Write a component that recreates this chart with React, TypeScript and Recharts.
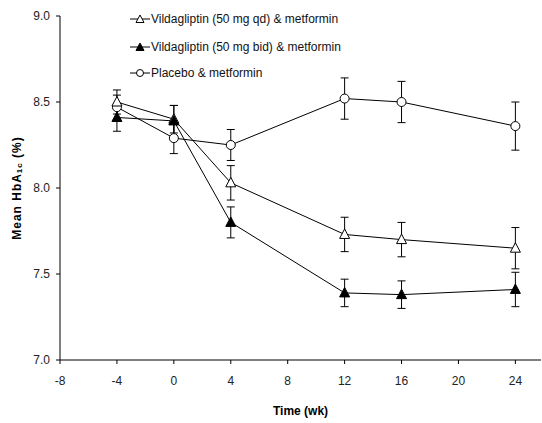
import React from "react";
import {
  LineChart,
  Line,
  XAxis,
  YAxis,
  ErrorBar,
} from "recharts";

const weeks = [-4, 0, 4, 12, 16, 24];

const qdMean = [8.5, 8.4, 8.03, 7.73, 7.7, 7.65];
const qdErr = [0.07, 0.08, 0.1, 0.1, 0.1, 0.12];

const bidMean = [8.41, 8.39, 7.8, 7.39, 7.38, 7.41];
const bidErr = [0.08, 0.09, 0.09, 0.08, 0.08, 0.1];

const pboMean = [8.47, 8.29, 8.25, 8.52, 8.5, 8.36];
const pboErr = [0.07, 0.09, 0.09, 0.12, 0.12, 0.14];

const xTicks = [-8, -4, 0, 4, 8, 12, 16, 20, 24];
const yTicks = [7.0, 7.5, 8.0, 8.5, 9.0];

const legendLabels = [
  "Vildagliptin (50 mg qd) & metformin",
  "Vildagliptin (50 mg bid) & metformin",
  "Placebo & metformin",
];

const data = weeks.map((w, i) => ({
  week: w,
  qd: qdMean[i],
  qdErr: qdErr[i],
  bid: bidMean[i],
  bidErr: bidErr[i],
  pbo: pboMean[i],
  pboErr: pboErr[i],
}));

const FONT = "'Liberation Sans', Arial, sans-serif";

function triangle(fill: string) {
  return (props: any) => {
    const { cx, cy, index } = props;
    if (cx == null || cy == null) return <g key={index} />;
    return (
      <path
        key={index}
        d={`M${cx},${cy - 5.5} L${cx + 5},${cy + 4} L${cx - 5},${cy + 4} Z`}
        fill={fill}
        stroke="#000"
        strokeWidth={1}
      />
    );
  };
}

function circle(props: any) {
  const { cx, cy, index } = props;
  if (cx == null || cy == null) return <g key={index} />;
  return <circle key={index} cx={cx} cy={cy} r={4.5} fill="#fff" stroke="#000" strokeWidth={1} />;
}

function LegendIcon({ kind }: { kind: number }) {
  return (
    <svg width={20} height={12} style={{ display: "block" }}>
      <line x1={0} y1={6} x2={20} y2={6} stroke="#000" strokeWidth={1} />
      {kind === 2 ? (
        <circle cx={10} cy={6} r={3.5} fill="#fff" stroke="#000" />
      ) : (
        <path
          d="M10,2 L14,9.5 L6,9.5 Z"
          fill={kind === 1 ? "#000" : "#fff"}
          stroke="#000"
        />
      )}
    </svg>
  );
}

const yLabel = (
  <text
    x={17}
    y={188}
    transform="rotate(-90 17 188)"
    textAnchor="middle"
    dominantBaseline="central"
    fontFamily={FONT}
    fontSize={12}
    fontWeight="bold"
    letterSpacing={1}
    fill="#000"
  >
    Mean HbA
    <tspan fontSize={8} dy={2}>1c</tspan>
    <tspan dy={-2}> (%)</tspan>
  </text>
);

export default function App() {
  return (
    <div style={{ position: "absolute", left: 0, top: 0, width: 542, height: 423, background: "#fff" }}>
      <LineChart
        width={542}
        height={423}
        data={data}
        margin={{ top: 16, right: 1, bottom: 0, left: 0 }}
      >
        <XAxis
          dataKey="week"
          type="number"
          domain={[-8, 25.8]}
          ticks={xTicks}
          allowDataOverflow
          height={63}
          stroke="#000"
          tickLine={{ stroke: "#000" }}
          tickSize={4}
          tick={{ fontSize: 12, fill: "#222", fontFamily: FONT }}
          tickMargin={12}
          label={{
            value: "Time (wk)",
            position: "insideBottom",
            offset: 8,
            style: { fontSize: 12, fontWeight: "bold", fill: "#000", fontFamily: FONT },
          }}
        />
        <YAxis
          type="number"
          domain={[7, 9]}
          ticks={yTicks}
          allowDataOverflow
          width={60}
          stroke="#000"
          tickLine={{ stroke: "#000" }}
          tickSize={4}
          tickMargin={6}
          tickFormatter={(v: number) => v.toFixed(1)}
          tick={{ fontSize: 12, fill: "#222", fontFamily: FONT }}
        />
        <Line
          dataKey="pbo"
          stroke="#000"
          strokeWidth={1}
          dot={circle}
          activeDot={false}
          isAnimationActive={false}
        >
          <ErrorBar dataKey="pboErr" direction="y" width={4} stroke="#000" strokeWidth={1} />
        </Line>
        <Line
          dataKey="qd"
          stroke="#000"
          strokeWidth={1}
          dot={triangle("#fff")}
          activeDot={false}
          isAnimationActive={false}
        >
          <ErrorBar dataKey="qdErr" direction="y" width={4} stroke="#000" strokeWidth={1} />
        </Line>
        <Line
          dataKey="bid"
          stroke="#000"
          strokeWidth={1}
          dot={triangle("#000")}
          activeDot={false}
          isAnimationActive={false}
        >
          <ErrorBar dataKey="bidErr" direction="y" width={4} stroke="#000" strokeWidth={1} />
        </Line>
        {yLabel}
      </LineChart>
      <div
        style={{
          position: "absolute",
          left: 130,
          top: 12,
          fontFamily: FONT,
          fontSize: 12,
          color: "#111",
        }}
      >
        {legendLabels.map((label, i) => (
          <div
            key={label}
            style={{
              display: "flex",
              alignItems: "center",
              height: 14,
              marginBottom: i === 0 ? 13.5 : 12.5,
              whiteSpace: "nowrap",
            }}
          >
            <LegendIcon kind={i} />
            <span style={{ marginLeft: 1 }}>{label}</span>
          </div>
        ))}
      </div>
    </div>
  );
}
